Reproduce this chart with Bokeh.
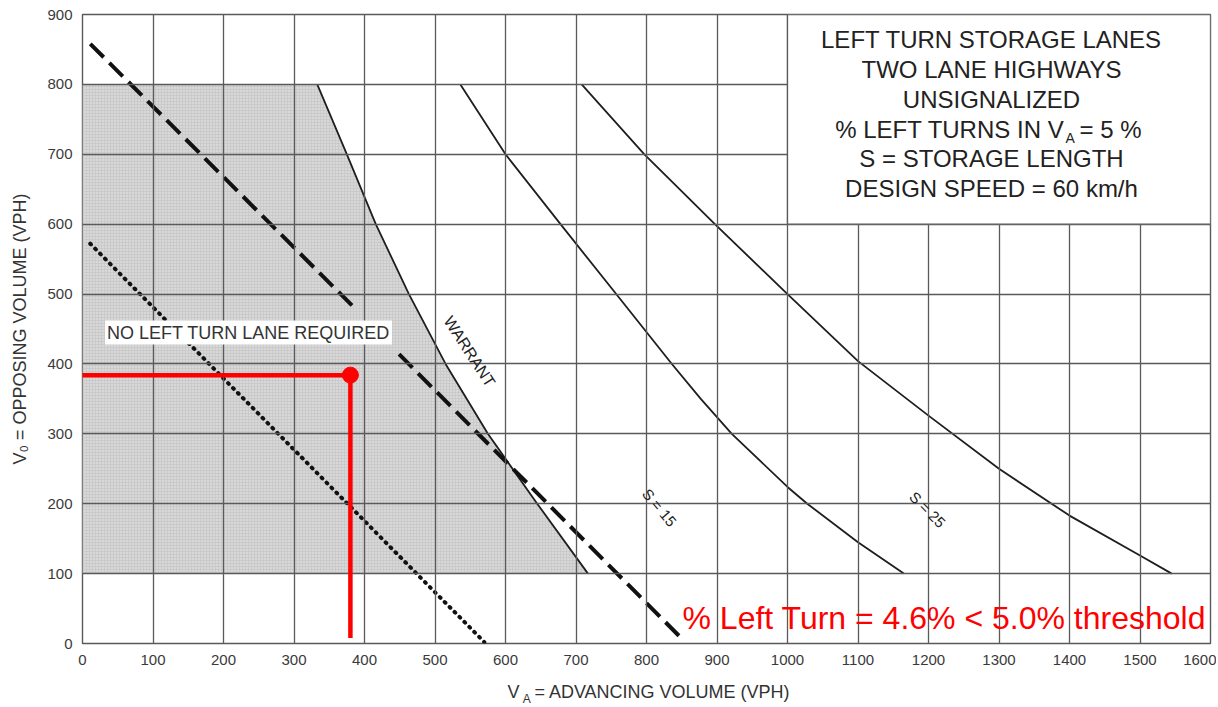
import math
from bokeh.plotting import figure
from bokeh.models import Label, BoxAnnotation, FixedTicker, Range1d, LinearAxis
from bokeh.embed import file_html
from bokeh.resources import INLINE

# ---------------- data ----------------
x_ticks = list(range(0, 1700, 100))
y_ticks = list(range(0, 1000, 100))

warrant_x = [333, 375, 416, 463, 515, 575, 645, 717]
warrant_y = [800, 700, 600, 500, 400, 300, 200, 100]

s15_x = [536, 600, 678, 757, 836, 877, 921, 1000, 1028, 1100, 1165]
s15_y = [800, 700, 600, 500, 400, 350, 300, 224, 200, 145, 100]

s25_x = [708, 797, 897, 1000, 1100, 1200, 1300, 1400, 1500, 1545]
s25_y = [800, 700, 600, 500, 404, 326, 250, 183, 126, 100]

dash_upper_x = [11, 385]
dash_upper_y = [858, 481]
dash_lower_x = [449, 853]
dash_lower_y = [414, 4]

dotted_x = [11, 570]
dotted_y = [572, 2]

shade_bottom, shade_top = 100, 800
box_left, box_right, box_bottom, box_top = 1000, 1600, 600, 900

point_x, point_y = 380, 384
point_floor = 8

title_lines = ["LEFT TURN STORAGE LANES", "TWO LANE HIGHWAYS", "UNSIGNALIZED",
               None, "S = STORAGE LENGTH", "DESIGN SPEED = 60 km/h"]

NB = "\u00a0"
x_title = NB + "V" + NB * 3 + "= ADVANCING VOLUME (VPH)"
x_title_sub = "A"
x_title_sub_at = 630
y_title = "V\u2080 = OPPOSING VOLUME (VPH)"

# ---------------- geometry helpers (pixel -> data for text placement) ----------------
W, H = 1216, 705
FL, FT, FR, FB = 82, 14, 1210, 643   # frame in page pixels
XMAX, YMAX = 1600, 900
def dx(px):
    return (px - FL) * XMAX / (FR - FL)
def dy(py):
    return (FB - py) * YMAX / (FB - FT)

FONT = "Liberation Sans"
GRID = "#5a5a5a"
TXT = "#333333"

p = figure(width=W, height=H, output_backend="svg", toolbar_location=None,
           x_range=Range1d(0, XMAX), y_range=Range1d(0, YMAX),
           min_border_left=FL, min_border_right=W - FR, min_border_top=FT,
           min_border_bottom=H - FB)
p.background_fill_color = "white"
p.border_fill_color = "white"
p.outline_line_color = GRID
p.outline_line_width = 1.4

for ax in (p.xaxis, p.yaxis):
    ax.axis_line_color = None
    ax.major_tick_line_color = None
    ax.minor_tick_line_color = None
    ax.major_tick_out = 0
    ax.major_tick_in = 0
    ax.major_label_text_font = FONT
    ax.major_label_text_font_size = "15px"
    ax.major_label_text_color = "#3a3a3a"
p.xaxis.ticker = FixedTicker(ticks=x_ticks)
p.yaxis.ticker = FixedTicker(ticks=y_ticks)
p.xaxis.major_label_standoff = 11
p.yaxis.major_label_standoff = 10

p.yaxis.axis_label = y_title
p.yaxis.axis_label_text_font = FONT
p.yaxis.axis_label_text_font_size = "18px"
p.yaxis.axis_label_text_font_style = "normal"
p.yaxis.axis_label_text_color = TXT
p.yaxis.axis_label_standoff = 14

# second (label-only) x axis carrying the title and its subscript
ax2 = LinearAxis(ticker=FixedTicker(ticks=[x_title_sub_at]),
                 major_label_overrides={x_title_sub_at: x_title_sub},
                 axis_line_color=None, major_tick_line_color=None,
                 minor_tick_line_color=None, major_tick_out=0, major_tick_in=0,
                 major_label_standoff=24, major_label_text_font=FONT,
                 major_label_text_font_size="12px", major_label_text_color=TXT,
                 axis_label=x_title, axis_label_text_font=FONT,
                 axis_label_text_font_size="18px", axis_label_text_font_style="normal",
                 axis_label_text_color=TXT, axis_label_standoff=-27)
p.add_layout(ax2, "below")

p.xgrid.ticker = FixedTicker(ticks=x_ticks)
p.ygrid.ticker = FixedTicker(ticks=y_ticks)
for g in (p.xgrid, p.ygrid):
    g.grid_line_color = GRID
    g.grid_line_width = 1.3
    g.level = "guide"

# shaded "no left turn lane" region
p.patch([0, 0] + warrant_x, [shade_bottom, shade_top] + warrant_y,
        fill_color="#d8d8d8", line_color=None,
        hatch_pattern="cross", hatch_color="#c2c2c2", hatch_scale=3, hatch_weight=0.6)

# curves
for xs, ys in ((warrant_x, warrant_y), (s15_x, s15_y), (s25_x, s25_y)):
    p.line(xs, ys, line_color="#1e1e1e", line_width=1.8, line_join="round")

p.line(dash_upper_x, dash_upper_y, line_color="#111111", line_width=4, line_dash="19 8")
p.line(dash_lower_x, dash_lower_y, line_color="#111111", line_width=4, line_dash="19 8")
p.line(dotted_x, dotted_y, line_color="#111111", line_width=4, line_dash="1 6",
       line_cap="round")

# white information box
p.add_layout(BoxAnnotation(left=box_left, right=box_right, bottom=box_bottom, top=box_top,
                           fill_color="white", fill_alpha=1.0,
                           line_color=GRID, line_width=1.3, line_alpha=1.0))

# title block (vertical centres of each line)
cx = dx(991)
centres = [38.7, 69, 99, 128.5, 158, 187.5]
for txt, cy in zip(title_lines, centres):
    if txt is None:
        continue
    p.add_layout(Label(x=cx, y=dy(cy), text=txt, text_align="center",
                       text_baseline="middle", text_font=FONT,
                       text_font_size="24px", text_color="#222222"))
c4 = centres[3]
p.add_layout(Label(x=dx(1064), y=dy(c4), text="% LEFT TURNS IN V", text_align="right",
                   text_baseline="middle", text_font=FONT, text_font_size="24px",
                   text_color="#222222"))
p.add_layout(Label(x=dx(1065), y=dy(c4 + 8.5), text="A", text_align="left",
                   text_baseline="middle", text_font=FONT, text_font_size="14px",
                   text_color="#222222"))
p.add_layout(Label(x=dx(1079), y=dy(c4), text="= 5 %", text_align="left",
                   text_baseline="middle", text_font=FONT, text_font_size="24px",
                   text_color="#222222"))

# in-plot labels
p.add_layout(Label(x=dx(248), y=dy(332), text="NO LEFT TURN LANE REQUIRED",
                   text_align="center", text_baseline="middle", text_font=FONT,
                   text_font_size="18px", text_color=TXT,
                   background_fill_color="white", background_fill_alpha=1.0, padding=2))
p.add_layout(Label(x=dx(469), y=dy(351), text="WARRANT", text_align="center",
                   text_baseline="middle", angle=-math.radians(57), text_font=FONT,
                   text_font_size="16px", text_color="#222222"))
p.add_layout(Label(x=dx(659), y=dy(507), text="S = 15", text_align="center",
                   text_baseline="middle", angle=-math.radians(50), text_font=FONT,
                   text_font_size="15px", text_color="#222222"))
p.add_layout(Label(x=dx(927), y=dy(509), text="S = 25", text_align="center",
                   text_baseline="middle", angle=-math.radians(45), text_font=FONT,
                   text_font_size="15px", text_color="#222222"))

# red annotation (on top)
RED = "#ff0000"
p.line([0, point_x], [point_y, point_y], line_color=RED, line_width=4.5, level="overlay")
p.line([point_x, point_x], [point_y, point_floor], line_color=RED, line_width=4.5,
       level="overlay")
p.scatter([point_x], [point_y], size=16, fill_color=RED, line_color=RED, level="overlay")
p.add_layout(Label(x=dx(682), y=dy(617), text="% Left Turn = 4.6% < 5.0% threshold",
                   text_align="left", text_baseline="middle", text_font=FONT,
                   text_font_size="32px", text_color=RED))

open("out.html", "w").write(file_html(p, INLINE))
